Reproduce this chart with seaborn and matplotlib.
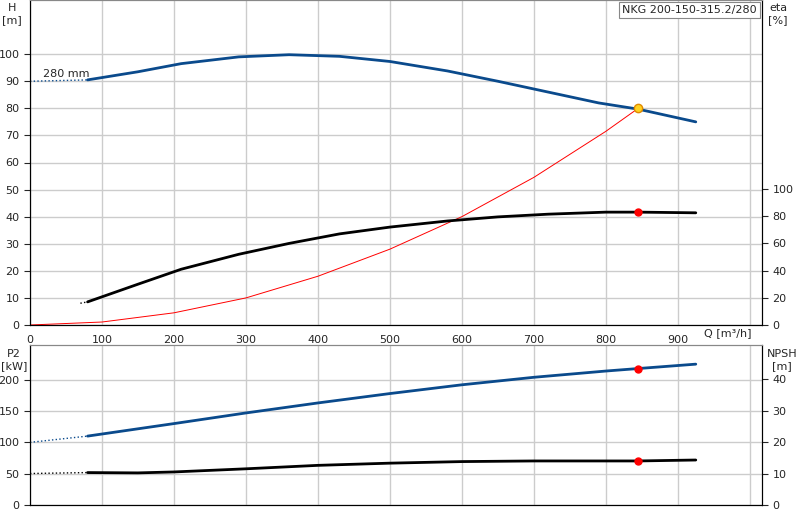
import numpy as np
import pandas as pd
import seaborn as sns
import matplotlib.pyplot as plt

# pump curve data
q_h = [80, 150, 210, 290, 360, 430, 500, 580, 650, 720, 790, 845, 925]
head = [90.5, 93.5, 96.5, 99, 99.8, 99.2, 97.3, 93.8, 90, 86, 82, 79.7, 75]
q_eta = [80, 150, 210, 290, 360, 430, 500, 580, 650, 720, 800, 845, 925]
eta = [17, 30, 41, 52, 60, 67, 72, 76.5, 79.5, 81.5, 83, 83, 82.5]
q_sys = [0, 100, 200, 300, 400, 500, 600, 700, 800, 845]
h_sys = [0, 1.1, 4.5, 10, 18, 28, 40, 54.5, 71.5, 80]
q_p2 = [80, 200, 300, 400, 500, 600, 700, 800, 845, 925]
p2 = [110, 130, 147, 163, 178, 192, 204, 214, 218, 225]
q_npsh = [80, 150, 200, 300, 400, 500, 600, 700, 845, 925]
npsh = [10.3, 10.2, 10.5, 11.5, 12.6, 13.3, 13.8, 14, 14, 14.3]
duty_q = 845

sns.set_style("white")
plt.rcParams['font.family'] = ['DejaVu Sans']
plt.rcParams['font.size'] = 8
blue = '#0a4a8c'
grid = '#cccccc'

fig = plt.figure(figsize=(8, 5.2), dpi=100)
ax = fig.add_axes([0.0375, 0.375, 0.915, 0.625])
ax2 = ax.twinx()
bx = fig.add_axes([0.0375, 0.029, 0.915, 0.308])
bx2 = bx.twinx()

for a in (ax, bx):
    a.set_xlim(0, 1017)
    a.set_xticks(range(0, 1001, 100))
    a.grid(True, color=grid, lw=1)
    a.set_axisbelow(True)
    a.tick_params(direction='out', length=4, labelsize=8)
ax.set_ylim(0, 120)
ax.set_yticks(range(0, 101, 10))
ax.set_xticklabels([str(v) for v in range(0, 901, 100)] + [''])
ax2.set_ylim(0, 239)
ax2.set_yticks(range(0, 101, 20))
bx.set_ylim(0, 256)
bx.set_yticks([0, 50, 100, 150, 200])
bx.set_xticklabels([])
bx2.set_ylim(0, 51)
bx2.set_yticks(range(0, 41, 10))
for a in (ax2, bx2):
    a.tick_params(direction='out', length=4, labelsize=8)
for a in (ax, ax2, bx, bx2):
    for s in ('left', 'right', 'bottom'):
        a.spines[s].set_color('black')
    a.spines['top'].set_color('#888888')

# head curve
sns.lineplot(x=q_h, y=head, ax=ax, color=blue, lw=2)
ax.plot([0, q_h[0]], [90, head[0]], color=blue, lw=1, ls=':')
# system curve
sns.lineplot(x=q_sys, y=h_sys, ax=ax, color='red', lw=0.7)
ax.plot(duty_q, h_sys[-1], 'o', ms=6, mfc='#ffd21f', mec='#e08a00')
ax.text(18, 91.5, '280 mm', fontsize=8)
# efficiency
sns.lineplot(x=q_eta, y=eta, ax=ax2, color='black', lw=2)
ax2.plot([70, q_eta[0]], [16, eta[0]], color='black', lw=1, ls=':')
ax2.plot(duty_q, eta[q_eta.index(duty_q)], 'o', ms=5, color='red')

# power and npsh
sns.lineplot(x=q_p2, y=p2, ax=bx, color=blue, lw=2)
bx.plot([0, q_p2[0]], [100, p2[0]], color=blue, lw=1, ls=':')
bx.plot(duty_q, p2[q_p2.index(duty_q)], 'o', ms=5, color='red')
sns.lineplot(x=q_npsh, y=npsh, ax=bx2, color='black', lw=2)
bx2.plot([0, q_npsh[0]], [10, npsh[0]], color='black', lw=1, ls=':')
bx2.plot(duty_q, npsh[q_npsh.index(duty_q)], 'o', ms=5, color='red')

fig.text(12 / 800, 1 - 14 / 520, 'H\n[m]', ha='center', va='center', fontsize=8)
fig.text(778 / 800, 1 - 14 / 520, 'eta\n[%]', ha='center', va='center', fontsize=8)
fig.text(14 / 800, 1 - 360 / 520, 'P2\n[kW]', ha='center', va='center', fontsize=8)
fig.text(782 / 800, 1 - 360 / 520, 'NPSH\n[m]', ha='center', va='center', fontsize=8)
fig.text(728 / 800, 1 - 333 / 520, 'Q [m³/h]', ha='center', va='center', fontsize=8)
fig.text(757 / 800, 1 - 10 / 520, 'NKG 200-150-315.2/280', ha='right', va='center',
         fontsize=8, bbox=dict(boxstyle='square,pad=0.3', fc='white', ec='#888888', lw=0.8))

fig.savefig('out.png', dpi=100)
